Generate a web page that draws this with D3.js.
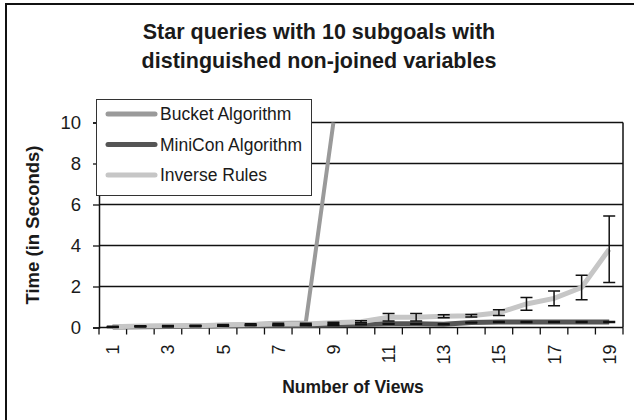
<!DOCTYPE html>
<html><head><meta charset="utf-8">
<script src="https://cdn.jsdelivr.net/npm/d3@7"></script>
<style>body{margin:0;background:#fff}text{font-family:"Liberation Sans",Arial,sans-serif}</style>
</head><body><svg id="c" width="634" height="420"></svg>
<script>
const categories = [1,2,3,4,5,6,7,8,9,10,11,12,13,14,15,16,17,18,19];
const tickLabels = ["1","3","5","7","9","11","13","15","17","19"];
const yTicks = [0,2,4,6,8,10];
const bucket = [0.05,0.07,0.08,0.1,0.13,0.16,0.22,0.25,10,null,null,null,null,null,null,null,null,null,null];
const minicon = [0.02,0.04,0.05,0.06,0.08,0.1,0.1,0.1,0.12,0.15,0.18,0.18,0.16,0.24,0.27,0.27,0.27,0.27,0.27];
const miniconErr = [0.02,0.02,0.02,0.02,0.02,0.02,0.02,0.02,0.02,0.02,0.02,0.02,0.02,0.02,0.02,0.02,0.02,0.02,0.02];
const inverse = [0.04,0.07,0.08,0.09,0.12,0.15,0.17,0.17,0.23,0.28,0.5,0.5,0.55,0.57,0.72,1.15,1.42,1.95,3.82];
const inverseErr = [0.02,0.02,0.02,0.02,0.03,0.03,0.04,0.04,0.03,0.05,0.18,0.18,0.07,0.06,0.14,0.31,0.36,0.6,1.62];
const seriesNames = ["Bucket Algorithm","MiniCon Algorithm","Inverse Rules"];
const title = ["Star queries with 10 subgoals with","distinguished non-joined variables"];

const svg = d3.select("#c");
const L=99, R=623, T=122.5, B=327.5;
const x = d3.scaleBand().domain(categories).range([L,R]);
const y = d3.scaleLinear().domain([0,10]).range([B,T]);
const cx = d => x(d)+x.bandwidth()/2;

// frame
svg.append("rect").attr("x",6).attr("y",4).attr("width",700).attr("height",500)
  .attr("fill","none").attr("stroke","#111").attr("stroke-width",2);

// title
svg.append("g").selectAll("text").data(title).join("text")
  .attr("x",319).attr("y",(d,i)=>39+i*29).attr("text-anchor","middle")
  .attr("font-size",21.5).attr("font-weight","bold").attr("fill","#1a1a1a").text(d=>d);

const defs = svg.append("defs");
defs.append("clipPath").attr("id","clip").append("rect")
  .attr("x",L).attr("y",T-1).attr("width",R-L).attr("height",B-T+6);

// gridlines
svg.append("g").selectAll("line").data(yTicks.filter(d=>d>0)).join("line")
  .attr("x1",L).attr("x2",R).attr("y1",d=>y(d)).attr("y2",d=>y(d))
  .attr("stroke","#111").attr("stroke-width",1.7);
// right border
svg.append("line").attr("x1",R).attr("x2",R).attr("y1",T).attr("y2",B)
  .attr("stroke","#111").attr("stroke-width",1.5);

// y axis
const ya = svg.append("g").attr("transform",`translate(${L},0)`)
  .call(d3.axisLeft(y).tickValues(yTicks).tickSize(6).tickPadding(12).tickFormat(d3.format("d")));
ya.select(".domain").attr("stroke","#111").attr("stroke-width",1.5);
ya.selectAll(".tick line").attr("stroke","#111").attr("stroke-width",1.3);
ya.selectAll(".tick text").attr("font-size",18.5).attr("fill","#1a1a1a").attr("font-family","Liberation Sans, Arial, sans-serif");

// x axis
const xa = svg.append("g").attr("transform",`translate(0,${B})`);
xa.append("line").attr("x1",L).attr("x2",R).attr("stroke","#111").attr("stroke-width",1.5);
const bounds = categories.map(d=>x(d)).concat([R]);
xa.selectAll("line.t").data(bounds).join("line").attr("class","t")
  .attr("x1",d=>d).attr("x2",d=>d).attr("y1",0).attr("y2",7).attr("stroke","#111").attr("stroke-width",1.3);
xa.selectAll("text").data(tickLabels).join("text")
  .attr("transform",d=>`translate(${cx(+d)+6.5},17) rotate(-90)`)
  .attr("text-anchor","end").attr("font-size",18).attr("fill","#1a1a1a").text(d=>d);

// axis titles
svg.append("text").attr("transform","translate(39,225) rotate(-90)").attr("text-anchor","middle")
  .attr("font-size",18.5).attr("font-weight","bold").attr("fill","#1a1a1a").text("Time (in Seconds)");
svg.append("text").attr("x",353).attr("y",393).attr("text-anchor","middle")
  .attr("font-size",17.5).attr("font-weight","bold").attr("fill","#1a1a1a").text("Number of Views");

const colors = ["#9a9a9a","#555555","#c6c6c6"];
const widths = [4,5,5];
const plot = svg.append("g").attr("clip-path","url(#clip)");
const line = d3.line().defined(d=>d.v!=null).x(d=>cx(d.c)).y(d=>y(d.v));
const mk = arr => categories.map((c,i)=>({c, v:arr[i]}));

function errBars(vals, errs){
  const g = plot.append("g");
  categories.forEach((c,i)=>{
    const v=vals[i], e=errs[i], xc=cx(c);
    g.append("line").attr("x1",xc).attr("x2",xc).attr("y1",y(v-e)).attr("y2",y(v+e)).attr("stroke","#111").attr("stroke-width",1.5);
    [v-e,v+e].forEach(w=>g.append("line").attr("x1",xc-6).attr("x2",xc+6).attr("y1",y(w)).attr("y2",y(w)).attr("stroke","#111").attr("stroke-width",1.5));
  });
}
plot.append("path").datum(mk(minicon)).attr("d",line).attr("fill","none").attr("stroke",colors[1]).attr("stroke-width",widths[1]);
plot.append("path").datum(mk(bucket)).attr("d",line).attr("fill","none").attr("stroke",colors[0]).attr("stroke-width",widths[0]);
plot.append("path").datum(mk(inverse)).attr("d",line).attr("fill","none").attr("stroke",colors[2]).attr("stroke-width",widths[2]);
errBars(minicon, miniconErr);
errBars(inverse, inverseErr);

// legend
const lg = svg.append("g");
lg.append("rect").attr("x",96.5).attr("y",99.5).attr("width",215).attr("height",96)
  .attr("fill","#fff").attr("stroke","#333").attr("stroke-width",1);
seriesNames.forEach((n,i)=>{
  const yy = 114+i*30.5;
  lg.append("line").attr("x1",108).attr("x2",155).attr("y1",yy).attr("y2",yy)
    .attr("stroke",colors[i]).attr("stroke-width",5).attr("stroke-linecap","round");
  lg.append("text").attr("x",160).attr("y",yy+6).attr("font-size",17.5).attr("fill","#1a1a1a").text(n);
});
</script></body></html>
